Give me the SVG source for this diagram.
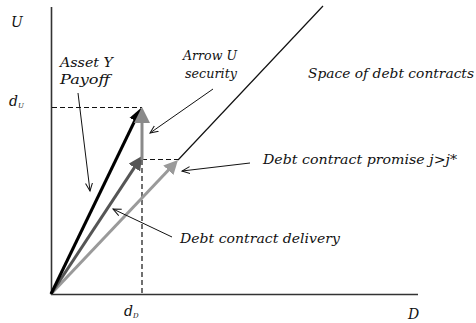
<svg xmlns="http://www.w3.org/2000/svg" width="476" height="323" viewBox="0 0 476 323">
<style>
text{font-family:"DejaVu Serif","Liberation Serif",serif;font-style:italic;font-size:13px;fill:#111}
.ax{stroke:#333;stroke-width:1.6;fill:none}
.dash{stroke:#111;stroke-width:1.2;stroke-dasharray:5,3;fill:none}
.ptr{stroke:#111;stroke-width:1;fill:none;marker-end:url(#open)}
.big{stroke-width:3;fill:none}
.sub{font-size:7px}
</style>
<defs>
<marker id="hBlack" markerUnits="userSpaceOnUse" markerWidth="15" markerHeight="14" refX="4" refY="7" orient="auto"><path d="M0,1 L14,7 L0,13 z" fill="#000"/></marker>
<marker id="hDark" markerUnits="userSpaceOnUse" markerWidth="15" markerHeight="14" refX="4" refY="7" orient="auto"><path d="M0,0 L14,7 L0,14 z" fill="#555"/></marker>
<marker id="hLight" markerUnits="userSpaceOnUse" markerWidth="15" markerHeight="14" refX="4" refY="7" orient="auto"><path d="M0,0 L14,7 L0,14 z" fill="#9a9a9a"/></marker>
<marker id="hMid" markerUnits="userSpaceOnUse" markerWidth="17" markerHeight="16" refX="4" refY="8" orient="auto"><path d="M0,0 L16,8 L0,16 z" fill="#8a8a8a"/></marker>
<marker id="open" markerUnits="userSpaceOnUse" markerWidth="10" markerHeight="10" refX="8" refY="4" orient="auto"><path d="M0,0.5 L8,4 L0,7.5" fill="none" stroke="#111" stroke-width="1"/></marker>
</defs>
<g id="axes">
<line class="ax" x1="51.5" y1="7" x2="51.5" y2="295"/>
<line class="ax" x1="51" y1="294.5" x2="418" y2="294.5"/>
</g>
<g id="connectors">
<line x1="178" y1="160" x2="323" y2="6" stroke="#111" stroke-width="1.2"/>
<line class="dash" x1="52" y1="107.5" x2="142" y2="107.5"/>
<line class="dash" x1="142" y1="159.5" x2="180" y2="159.5"/>
<line class="dash" x1="142" y1="160" x2="142" y2="294"/>
<line class="big" x1="51" y1="294" x2="171.1" y2="167.3" stroke="#9a9a9a" marker-end="url(#hLight)"/>
<line class="big" x1="51" y1="294" x2="136.5" y2="164.3" stroke="#555" marker-end="url(#hDark)"/>
<line class="big" x1="51" y1="294" x2="136.6" y2="117" stroke="#000" marker-end="url(#hBlack)"/>
<line class="big" x1="142" y1="160" x2="142" y2="119" stroke="#8a8a8a" marker-end="url(#hMid)"/>
<line class="ptr" x1="78" y1="93" x2="90" y2="191"/>
<line class="ptr" x1="213" y1="89" x2="150" y2="133"/>
<line class="ptr" x1="250" y1="163" x2="182" y2="171"/>
<line class="ptr" x1="172" y1="237" x2="113" y2="209"/>
</g>
<g id="labels">
<text x="11" y="27" style="font-size:14px">U</text>
<text x="408" y="319" style="font-size:14px">D</text>
<text x="9" y="106" style="font-size:14px">d<tspan class="sub" dy="2">U</tspan></text>
<text x="124" y="316" style="font-size:14px">d<tspan class="sub" dy="2">D</tspan></text>
<text x="60" y="67" textLength="53" lengthAdjust="spacingAndGlyphs">Asset Y</text>
<text x="60" y="84" textLength="50" lengthAdjust="spacingAndGlyphs">Payoff</text>
<text x="183" y="60" textLength="54" lengthAdjust="spacingAndGlyphs">Arrow U</text>
<text x="185" y="78" textLength="52" lengthAdjust="spacingAndGlyphs">security</text>
<text x="308" y="78" textLength="166" lengthAdjust="spacingAndGlyphs">Space of debt contracts</text>
<text x="263" y="164" textLength="194" lengthAdjust="spacingAndGlyphs">Debt contract promise j&gt;j*</text>
<text x="180" y="243" textLength="160" lengthAdjust="spacingAndGlyphs">Debt contract delivery</text>
</g>
</svg>
